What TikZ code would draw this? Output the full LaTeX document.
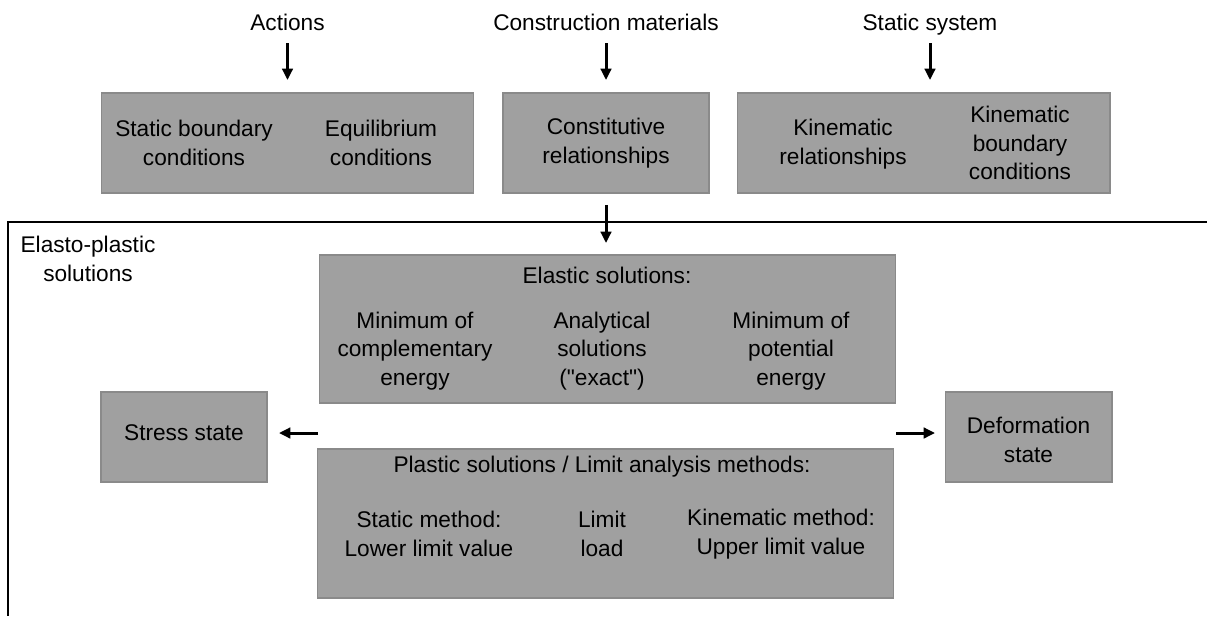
\documentclass[tikz,border=0pt]{standalone}
\usepackage{fontspec}
\setmainfont{Liberation Sans}
\usetikzlibrary{arrows.meta}
\definecolor{boxfill}{HTML}{A0A0A0}
\definecolor{boxline}{HTML}{8A8A8A}
\begin{document}
\begin{tikzpicture}[x=0.02cm,y=-0.02cm,
  every node/.style={font=\fontsize{12.9pt}{16.2pt}\selectfont},
  box/.style={draw=boxline,fill=boxfill,line width=0.6pt,inner sep=0pt,outer sep=0pt},
  txt/.style={align=center,inner sep=0pt},
  lbl/.style={anchor=base,inner sep=0pt,text depth=0pt},
  arr/.style={-{Triangle[length=6.5pt,width=6pt]},line width=1.7pt}]
\useasboundingbox (0,0) rectangle (1207,616);
% outer frame
\draw[line width=0.8pt] (1207,222) -- (8,222) -- (8,616);
\node[txt] (ep) at (88,259) {Elasto-plastic\\solutions};
% top row
\node[lbl] (act) at (287.5,30) {Actions};
\node[lbl] (mat) at (606,30) {Construction materials};
\node[lbl] (sys) at (930,30) {Static system};
\node[box,minimum width=7.46cm,minimum height=2cm] (equ) at (287.5,143) {};
\node[box,minimum width=4.12cm,minimum height=2cm] (con) at (606,143) {};
\node[box,minimum width=7.46cm,minimum height=2cm] (kin) at (923.5,143) {};
\node[txt] (equ1) at (194,143) {Static boundary\\conditions};
\node[txt] (equ2) at (381,143) {Equilibrium\\conditions};
\node[txt] (con1) at (606,143) {Constitutive\\relationships};
\node[txt] (kin1) at (843,144) {Kinematic\\relationships};
\node[txt] (kin2) at (1020,143) {Kinematic\\boundary\\conditions};
\draw[arr,shorten <=0.26cm,shorten >=0.26cm] (act) -- (act |- equ.north);
\draw[arr,shorten <=0.26cm,shorten >=0.26cm] (mat) -- (mat |- con.north);
\draw[arr,shorten <=0.26cm,shorten >=0.26cm] (sys) -- (sys |- kin.north);
% elastic and plastic solutions
\node[box,minimum width=11.54cm,minimum height=2.96cm] (el) at (607.5,329) {};
\node[txt] (el0) at (607,275) {Elastic solutions:};
\node[txt] (el1) at (415,351) {Minimum of\\complementary\\energy};
\node[txt] (el2) at (602,351) {Analytical\\solutions\\(\textquotedbl exact\textquotedbl)};
\node[txt] (el3) at (791,351) {Minimum of\\potential\\energy};
\node[box,minimum width=11.54cm,minimum height=2.98cm] (pl) at (605.5,523.5) {};
\node[txt] (pl0) at (602,467) {Plastic solutions / Limit analysis methods:};
\node[txt] (pl1) at (429,534) {Static method:\\Lower limit value};
\node[txt] (pl2) at (602,534) {Limit\\load};
\node[txt] (pl3) at (781,534) {Kinematic method:\\Upper limit value};
\draw[arr,shorten <=0.24cm,shorten >=0.24cm] (con) -- (con |- el.north);
% states
\node[box,minimum width=3.32cm,minimum height=1.8cm] (st) at (184,437) {};
\node[txt] (st1) at (184,433) {Stress state};
\node[box,minimum width=3.34cm,minimum height=1.8cm] (df) at (1028.5,437) {};
\node[txt] (df1) at (1028.5,440) {Deformation\\state};
\coordinate (mL) at (318,433);
\coordinate (mR) at (896,433);
\draw[arr,shorten >=0.24cm] (mL) -- (mL -| st.east);
\draw[arr,shorten >=0.2cm] (mR) -- (mR -| df.west);
\end{tikzpicture}
\end{document}
